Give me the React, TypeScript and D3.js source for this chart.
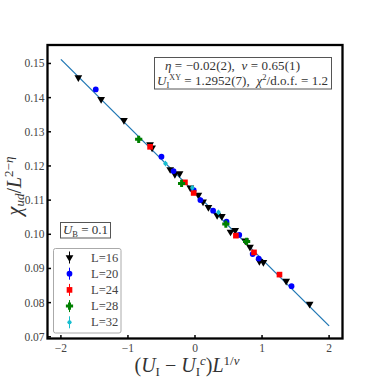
import React from "react";
import * as d3 from "d3";

// scaled data
const l16X = [-1.74, -1.40, -1.06, -0.67, -0.64, -0.37, -0.30, -0.23, -0.07, 0.05, 0.12, 0.20, 0.33, 0.40, 0.53, 0.60, 0.75, 0.82, 0.96, 1.02, 1.36, 1.71];
const l16Y = [0.1459, 0.1395, 0.1334, 0.1263, 0.1253, 0.1190, 0.1176, 0.1178, 0.1136, 0.1115, 0.1095, 0.1079, 0.1056, 0.1053, 0.1007, 0.1012, 0.0981, 0.0963, 0.0921, 0.0918, 0.0863, 0.0796];
const l20X = [-1.48, -0.50, -0.32, -0.02, 0.08, 0.27, 0.47, 0.66, 0.86, 0.95, 1.44];
const l20Y = [0.1424, 0.1227, 0.1185, 0.1129, 0.1100, 0.1069, 0.1037, 0.0998, 0.0942, 0.0929, 0.0848];
const l24X = [-0.67, -0.15, -0.02, 0.61, 0.88, 1.26];
const l24Y = [0.1256, 0.1152, 0.1121, 0.0996, 0.0947, 0.0882];
const l28X = [-0.84, -0.20, 0.46, 0.77];
const l28Y = [0.1278, 0.1149, 0.1030, 0.0979];
const l32X = [-0.44, -0.04, 0.35];
const l32Y = [0.1207, 0.1136, 0.1064];

const seriesNames = ["L=16", "L=20", "L=24", "L=28", "L=32"];
const seriesColors = ["black", "blue", "red", "green", "#17becf"];
const seriesErr = [0.0003, 0.0003, 0.0004, 0.0005, 0.0008];

const fitX = [-2, 2];
const fitY = [0.1512, 0.0732];

const xTicks = [-2, -1, 0, 1, 2];
const yTicks = [0.07, 0.08, 0.09, 0.10, 0.11, 0.12, 0.13, 0.14, 0.15];

const W = 381;
const H = 381;
const m = { left: 47.5, right: 342.5, top: 45, bottom: 338.5 };
const font = "'Liberation Serif', 'DejaVu Serif', serif";

// filled plus, like matplotlib's "P"
const plusPath = (r: number, a: number) =>
  `M${-a},${-r}H${a}V${-a}H${r}V${a}H${a}V${r}H${-a}V${a}H${-r}V${-a}H${-a}Z`;

const symbols = [
  { type: d3.symbolTriangle, size: 26, rot: 180 },
  { type: d3.symbolCircle, size: 26, rot: 0 },
  { type: d3.symbolSquare, size: 32, rot: 0 },
  { type: null, size: 0, rot: 0 },
  { type: d3.symbolCircle, size: 14, rot: 0 },
];

export default function App() {
  const x = d3.scaleLinear().domain([-2.2, 2.2]).range([m.left, m.right]);
  const y = d3.scaleLinear().domain([0.0695, 0.1554]).range([m.bottom, m.top]);

  const series = [
    [l16X, l16Y],
    [l20X, l20Y],
    [l24X, l24Y],
    [l28X, l28Y],
    [l32X, l32Y],
  ];

  const line = d3.line<number>().x((d, i) => x(fitX[i])).y((d) => y(d));

  const marker = (si: number, cx: number, cy: number, key: string) => {
    const s = symbols[si];
    const path = s.type ? d3.symbol().type(s.type).size(s.size)()! : plusPath(3.6, 1.5);
    return (
      <path key={key} d={path} fill={seriesColors[si]}
        transform={`translate(${cx},${cy}) rotate(${s.rot})`} />
    );
  };

  return (
    <svg width={W} height={H} style={{ position: "absolute", left: 0, top: 0, background: "white" }}>
      {/* fit line */}
      <path d={line(fitY)!} fill="none" stroke="#1f77b4" strokeWidth={1.3} />

      {/* data */}
      {series.map(([xs, ys], si) => (
        <g key={si}>
          {xs.map((xv, i) => (
            <line key={"e" + i} x1={x(xv)} x2={x(xv)}
              y1={y(ys[i] - seriesErr[si])} y2={y(ys[i] + seriesErr[si])}
              stroke={seriesColors[si]} strokeWidth={1} />
          ))}
          {xs.map((xv, i) => marker(si, x(xv), y(ys[i]), "m" + i))}
        </g>
      ))}

      {/* frame */}
      <rect x={m.left} y={m.top} width={m.right - m.left} height={m.bottom - m.top}
        fill="none" stroke="black" strokeWidth={2.3} />

      {/* ticks */}
      {xTicks.map((t) => (
        <g key={"x" + t}>
          <line x1={x(t)} x2={x(t)} y1={m.bottom} y2={m.bottom - 3.5} stroke="black" strokeWidth={1.5} />
          <text x={x(t)} y={m.bottom + 13} textAnchor="middle" fontFamily={font} fontSize={11.5} fill="#444">
            {t < 0 ? "\u2212" + Math.abs(t) : String(t)}
          </text>
        </g>
      ))}
      {yTicks.map((t) => (
        <g key={"y" + t}>
          <line x1={m.left} x2={m.left + 3.5} y1={y(t)} y2={y(t)} stroke="black" strokeWidth={1.5} />
          <text x={m.left - 3} y={y(t) + 4} textAnchor="end" fontFamily={font} fontSize={11.5} fill="#444">
            {t.toFixed(2)}
          </text>
        </g>
      ))}

      {/* axis labels */}
      <text x={187} y={372} textAnchor="middle" fontFamily={font} fontSize={20} fill="#333">
        (<tspan fontStyle="italic">U</tspan>
        <tspan fontSize={13} dy={4}>I</tspan>
        <tspan dy={-4}> {"\u2212"} </tspan>
        <tspan fontStyle="italic">U</tspan>
        <tspan fontSize={13} dy={4}>I</tspan>
        <tspan fontSize={13} fontStyle="italic" dy={-11}>c</tspan>
        <tspan dy={7}>)</tspan>
        <tspan fontStyle="italic">L</tspan>
        <tspan fontSize={13} dy={-7}>1/</tspan>
        <tspan fontSize={13} fontStyle="italic">{"\u03bd"}</tspan>
      </text>
      <text transform="translate(21,186) rotate(-90)" textAnchor="middle" fontFamily={font} fontSize={20} fill="#333">
        <tspan fontStyle="italic">{"\u03c7"}</tspan>
        <tspan fontSize={13} fontStyle="italic" dy={3}>ud</tspan>
        <tspan dy={-3}>/</tspan>
        <tspan fontStyle="italic">L</tspan>
        <tspan fontSize={13} dy={-8}>2{"\u2212"}</tspan>
        <tspan fontSize={13} fontStyle="italic">{"\u03b7"}</tspan>
      </text>

      {/* parameter box */}
      <rect x={154.5} y={57.5} width={177} height={31.5} fill="white" stroke="#555" strokeWidth={1} />
      <text x={165} y={70} fontFamily={font} fontSize={13} fill="#333" textLength={135} lengthAdjust="spacing" style={{ whiteSpace: "pre" }}>
        <tspan fontStyle="italic">{"\u03b7"}</tspan>{" = \u22120.02(2),  "}<tspan fontStyle="italic">{"\u03bd"}</tspan>{" = 0.65(1)"}
      </text>
      <text x={157} y={85} fontFamily={font} fontSize={13} fill="#333" textLength={171} lengthAdjust="spacing" style={{ whiteSpace: "pre" }}>
        <tspan fontStyle="italic">U</tspan>
        <tspan fontSize={8.5} dy={3}>I</tspan>
        <tspan fontSize={8} dy={-8}>XY</tspan>
        <tspan dy={5}>{" = 1.2952(7),  "}</tspan>
        <tspan fontStyle="italic">{"\u03c7"}</tspan>
        <tspan fontSize={8.5} dy={-5}>2</tspan>
        <tspan dy={5}>/d.o.f. = 1.2</tspan>
      </text>

      {/* U_B box */}
      <rect x={60.5} y={222.5} width={50} height={15.5} fill="white" stroke="#555" strokeWidth={1} />
      <text x={63} y={234} fontFamily={font} fontSize={13} fill="#333" textLength={45} lengthAdjust="spacing" style={{ whiteSpace: "pre" }}>
        <tspan fontStyle="italic">U</tspan>
        <tspan fontSize={8.5} dy={3}>B</tspan>
        <tspan dy={-3}>{" = 0.1"}</tspan>
      </text>

      {/* legend */}
      <rect x={53.5} y={248.5} width={67.5} height={84.5} rx={2} fill="white" stroke="#aaa" strokeWidth={1} />
      {seriesNames.map((name, si) => {
        const ly = 257.5 + si * 16.2;
        return (
          <g key={name}>
            <line x1={69.5} x2={69.5} y1={ly - 6} y2={ly + 6} stroke={seriesColors[si]} strokeWidth={1} />
            {marker(si, 69.5, ly, "lm")}
            <text x={91} y={ly + 4} fontFamily={font} fontSize={12.5} fill="#444">{name}</text>
          </g>
        );
      })}
    </svg>
  );
}
